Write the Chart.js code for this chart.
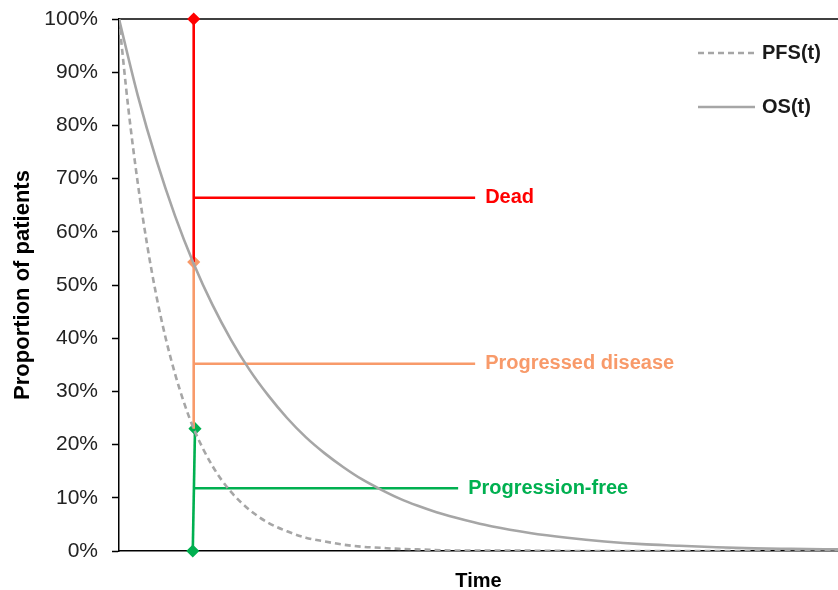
<!DOCTYPE html>
<html>
<head>
<meta charset="utf-8">
<script src="https://cdn.jsdelivr.net/npm/chart.js@4.4.1/dist/chart.umd.min.js"></script>
<style>
  html, body { margin: 0; padding: 0; background: #fff; }
  #wrap { width: 838px; height: 590px; }
</style>
</head>
<body>
<div id="wrap"><canvas id="survChart" width="838" height="590"></canvas></div>
<script>
// survival curves (time in arbitrary units)
const osTime = [0, 1, 2, 3, 4, 5, 6, 7, 8, 9, 10, 11, 12, 13, 14, 15, 16, 17, 18, 19, 20, 22, 24, 26, 28, 30, 32, 34, 36, 38.5]
const osValues = [100, 85.7, 73.5, 63.0, 54.0, 46.3, 39.7, 34.0, 29.2, 25.0, 21.4, 18.4, 15.8, 13.5, 11.6, 9.9, 8.5, 7.3, 6.3, 5.4, 4.6, 3.4, 2.5, 1.8, 1.3, 1.0, 0.7, 0.5, 0.4, 0.3]

const pfsTime = [0, 0.5, 1, 1.5, 2, 2.5, 3, 3.5, 4, 5, 6, 7, 8, 9, 10, 11, 12, 13, 14, 15, 16, 18, 20, 25, 30, 38.5]
const pfsValues = [100, 83.2, 69.3, 57.7, 48.0, 40.0, 33.3, 27.7, 23.0, 16.0, 11.1, 7.7, 5.3, 3.7, 2.5, 1.8, 1.2, 0.8, 0.6, 0.4, 0.3, 0.1, 0.1, 0, 0, 0]

// state partition at the chosen time point
const cutTime = 4
const deadLine = [100, 54.3]
const progLine = [54.3, 23.0]
const freeLine = [23.0, 0]
const stateNames = ['Dead', 'Progressed disease', 'Progression-free']
const stateLevels = [66.4, 35.2, 11.8]
const stateEnds = [19.07, 19.07, 18.16]
const stateColors = ['#FF0000', '#F89A6A', '#00B050']

const yTicks = [0, 10, 20, 30, 40, 50, 60, 70, 80, 90, 100]

const gray = '#A6A6A6'

function pts(xs, ys) {
    return xs.map((x, i) => ({ x: x, y: ys[i] }))
}

function seg(color, data, extra) {
    return Object.assign({
        data: data,
        borderColor: color,
        backgroundColor: color,
        borderWidth: 2.6,
        pointRadius: 0,
        pointHoverRadius: 0,
        tension: 0
    }, extra || {})
}

const diamond = { showLine: false, pointRadius: 5.5, pointBorderWidth: 1.5, pointStyle: 'rectRot', clip: false }

const datasets = [
    seg(gray, pts(pfsTime, pfsValues), { borderDash: [6, 4], borderWidth: 2.6, cubicInterpolationMode: 'monotone' }),
    seg(gray, pts(osTime, osValues), { borderWidth: 2.6, cubicInterpolationMode: 'monotone' }),
    // vertical splits
    seg(stateColors[0], [{ x: cutTime, y: deadLine[0] }, { x: cutTime, y: deadLine[1] }]),
    seg(stateColors[1], [{ x: cutTime, y: progLine[0] }, { x: cutTime, y: progLine[1] }]),
    seg(stateColors[2], [{ x: cutTime - 0.05, y: freeLine[1] }, { x: cutTime + 0.07, y: freeLine[0] }]),
    // horizontal leaders
    seg(stateColors[0], [{ x: cutTime, y: stateLevels[0] }, { x: stateEnds[0], y: stateLevels[0] }]),
    seg(stateColors[1], [{ x: cutTime, y: stateLevels[1] }, { x: stateEnds[1], y: stateLevels[1] }]),
    seg(stateColors[2], [{ x: cutTime, y: stateLevels[2] }, { x: stateEnds[2], y: stateLevels[2] }]),
    // diamond markers
    seg(stateColors[0], [{ x: cutTime, y: deadLine[0] }], diamond),
    seg(stateColors[1], [{ x: cutTime, y: progLine[0] }], diamond),
    seg(stateColors[2], [{ x: cutTime - 0.05, y: freeLine[1] }, { x: cutTime + 0.07, y: freeLine[0] }], diamond)
]

const extras = {
    id: 'extras',
    beforeDatasetsDraw(chart) {
        const ctx = chart.ctx
        const area = chart.chartArea
        // top frame line
        ctx.save()
        ctx.strokeStyle = '#000'
        ctx.lineWidth = 1.5
        ctx.beginPath()
        ctx.moveTo(area.left, area.top)
        ctx.lineTo(area.right, area.top)
        ctx.stroke()
        ctx.restore()
    },
    afterDatasetsDraw(chart) {
        const ctx = chart.ctx
        const area = chart.chartArea
        const xs = chart.scales.x
        const ys = chart.scales.y
        ctx.save()
        // state labels
        ctx.font = 'bold 20px "Liberation Sans", Arial, sans-serif'
        ctx.textBaseline = 'middle'
        ctx.textAlign = 'left'
        stateNames.forEach((name, i) => {
            ctx.fillStyle = stateColors[i]
            ctx.fillText(name, xs.getPixelForValue(stateEnds[i]) + 10, ys.getPixelForValue(stateLevels[i]))
        })

        // legend
        const items = [['PFS(t)', [6, 4]], ['OS(t)', []]]
        items.forEach((it, i) => {
            const y = area.top + 34 + i * 54
            const x0 = area.right - 140
            ctx.strokeStyle = gray
            ctx.lineWidth = 2.6
            ctx.setLineDash(it[1])
            ctx.beginPath()
            ctx.moveTo(x0, y)
            ctx.lineTo(x0 + 57, y)
            ctx.stroke()
            ctx.setLineDash([])
            ctx.fillStyle = '#1a1a1a'
            ctx.fillText(it[0], x0 + 64, y)
        })
        ctx.restore()
    }
}

const ctx0 = document.getElementById('survChart')
const chart = new Chart(ctx0, {
    type: 'line',
    data: { datasets: datasets },
    options: {
        responsive: false,
        animation: false,
        layout: { autoPadding: false, padding: { top: 19, right: 0, left: 0, bottom: 0 } },
        plugins: {
            legend: { display: false },
            tooltip: { enabled: false }
        },
        scales: {
            x: {
                type: 'linear',
                min: 0,
                max: 38.5,
                ticks: { display: false },
                grid: { drawOnChartArea: false, drawTicks: false },
                border: { display: true, color: '#000', width: 1.5 },
                title: {
                    display: true,
                    text: 'Time',
                    color: '#000',
                    font: { family: '"Liberation Sans", Arial, sans-serif', size: 20, weight: 'bold' },
                    padding: { top: 4, bottom: -3 }
                },
                afterFit: (s) => {
                    s.height = 39
                    s.paddingLeft = 0
                    s.paddingRight = 0
                }
            },
            y: {
                min: 0,
                max: 100,
                afterBuildTicks: (s) => { s.ticks = yTicks.map((v) => ({ value: v })) },
                ticks: {
                    callback: (v) => v + '%',
                    color: '#222',
                    padding: 14,
                    font: { family: '"Liberation Sans", Arial, sans-serif', size: 21 }
                },
                grid: { drawOnChartArea: false, drawTicks: true, tickLength: 7, color: '#000', tickWidth: 1.5 },
                border: { display: true, color: '#000', width: 1.5 },
                title: {
                    display: true,
                    text: 'Proportion of patients',
                    color: '#000',
                    font: { family: '"Liberation Sans", Arial, sans-serif', size: 22, weight: 'bold' },
                    padding: { top: 10, bottom: 0 }
                },
                afterFit: (s) => {
                    s.width = 119
                    s.paddingTop = 0
                    s.paddingBottom = 0
                }
            }
        }
    },
    plugins: [extras]
})
</script>
</body>
</html>
